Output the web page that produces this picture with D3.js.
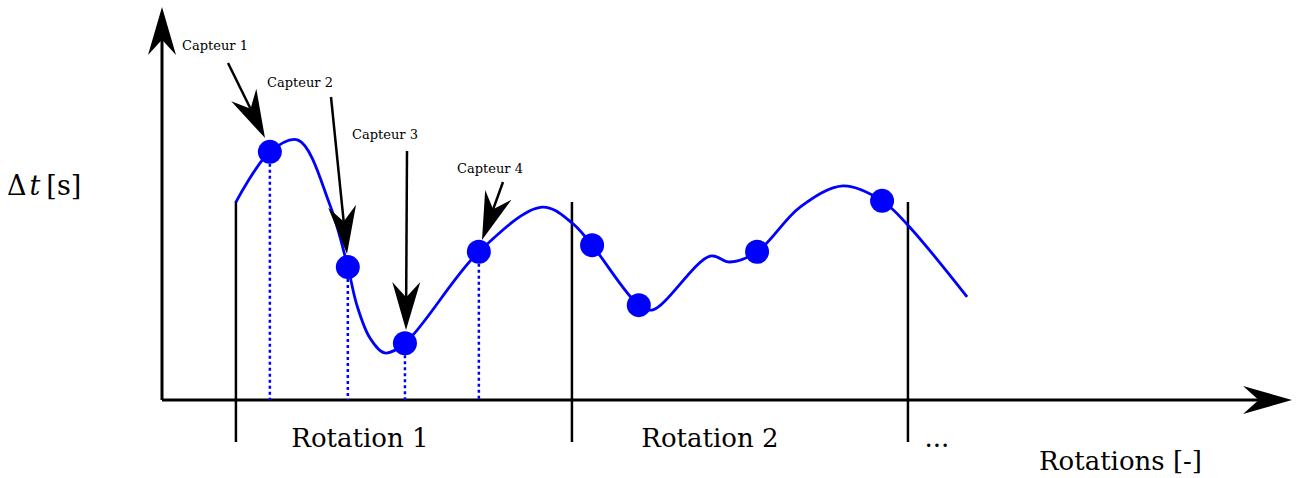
<!DOCTYPE html>
<html>

<head>
    <style>
        body { margin: 0; background: #fff; }
        text { font-family: "DejaVu Serif", serif; fill: #000; }
    </style>
    <script src="https://d3js.org/d3.v7.min.js"></script>
</head>

<body>

    <svg width="1296" height="478"></svg>

    <script>

        // curve of delta t along the rotations (x in rotations, y in arbitrary units)
        const curveR = [0, 0.101, 0.185, 0.280, 0.333, 0.360, 0.399, 0.443, 0.503, 0.723, 0.911, 1.000,
            1.060, 1.199, 1.241, 1.411, 1.470, 1.551, 1.679, 1.807, 1.923, 2.000, 2.176]
        const curveV = [5.05, 6.33, 6.63, 4.97, 3.39, 2.42, 1.58, 1.20, 1.45, 3.78, 4.92, 4.52,
            3.95, 2.42, 2.30, 3.67, 3.52, 3.78, 4.92, 5.46, 5.08, 4.46, 2.63]

        // sensor readings
        const sensorR = [0.101, 0.333, 0.503, 0.723, 1.060, 1.199, 1.551, 1.923]
        const sensorV = [6.33, 3.39, 1.45, 3.78, 3.95, 2.42, 3.78, 5.08]
        const sensorNames = ["Capteur 1", "Capteur 2", "Capteur 3", "Capteur 4"]

        // rotation boundaries and labels
        const rotationTicks = [0, 1, 2]
        const rotationLabels = ["Rotation 1", "Rotation 2", "..."]

        const svg = d3.select("svg")

        const x = d3.scaleLinear().domain([-0.22, 3.14]).range([162, 1291])
        const y = d3.scaleLinear().domain([0, 10]).range([400, 8])

        // draws a "stealth" arrow from (x1,y1) to tip (x2,y2)
        function arrow(x1, y1, x2, y2, len, half, width) {
            const a = Math.atan2(y2 - y1, x2 - x1)
            const ux = Math.cos(a), uy = Math.sin(a)
            const nx = -uy, ny = ux
            const notch = len * 0.68
            svg.append("line")
                .attr("x1", x1).attr("y1", y1)
                .attr("x2", x2 - ux * notch).attr("y2", y2 - uy * notch)
                .attr("stroke", "#000")
                .attr("stroke-width", width)
            const head = [
                [x2, y2],
                [x2 - ux * len + nx * half, y2 - uy * len + ny * half],
                [x2 - ux * notch, y2 - uy * notch],
                [x2 - ux * len - nx * half, y2 - uy * len - ny * half]
            ]
            svg.append("path")
                .attr("d", "M" + head.join("L") + "Z")
                .attr("fill", "#000")
        }

        // axes
        arrow(x(-0.22), y(0), 1292, y(0), 49, 14, 3)
        arrow(x(-0.22), y(0), x(-0.22), 7, 48, 14, 3)

        // rotation separators
        svg.selectAll(".sep")
            .data(rotationTicks)
            .join("line")
            .attr("class", "sep")
            .attr("x1", d => x(d)).attr("x2", d => x(d))
            .attr("y1", (d, i) => i == 0 ? 201 : 202)
            .attr("y2", 442)
            .attr("stroke", "#000")
            .attr("stroke-width", 2.5)

        const labelShift = [124, 138, 29]
        svg.selectAll(".rotLabel")
            .data(rotationLabels)
            .join("text")
            .attr("class", "rotLabel")
            .attr("x", (d, i) => x(rotationTicks[i]) + labelShift[i])
            .attr("y", 447)
            .attr("text-anchor", "middle")
            .style("font-size", "26px")
            .text(d => d)

        svg.append("text")
            .attr("x", 1202)
            .attr("y", 470)
            .attr("text-anchor", "end")
            .style("font-size", "26px")
            .text("Rotations [-]")

        const ylab = svg.append("text")
            .attr("x", 7)
            .attr("y", 195)
            .style("font-size", "27px")
        ylab.append("tspan").text("Δ")
        ylab.append("tspan").attr("dx", 3).style("font-style", "italic").text("t")
        ylab.append("tspan").attr("dx", 6).text("[s]")

        // dotted drop lines for the first rotation
        svg.selectAll(".drop")
            .data(sensorR.slice(0, 4))
            .join("line")
            .attr("class", "drop")
            .attr("x1", d => x(d)).attr("x2", d => x(d))
            .attr("y1", (d, i) => y(sensorV[i]))
            .attr("y2", y(0))
            .attr("stroke", "#0000ff")
            .attr("stroke-width", 2.5)
            .attr("stroke-dasharray", "3,3")

        // curve
        const pts = curveR.map((r, i) => [r, curveV[i]])
        svg.append("path")
            .datum(pts)
            .attr("d", d3.line().x(d => x(d[0])).y(d => y(d[1])).curve(d3.curveCatmullRom.alpha(0.5)))
            .attr("fill", "none")
            .attr("stroke", "#0000ff")
            .attr("stroke-width", 2.8)

        svg.selectAll(".dot")
            .data(sensorR)
            .join("circle")
            .attr("class", "dot")
            .attr("cx", d => x(d))
            .attr("cy", (d, i) => y(sensorV[i]))
            .attr("r", 12)
            .attr("fill", "#0000ff")

        // sensor annotations
        const labelPos = [[215, 50], [300, 87], [385, 139], [490, 173]]
        const arrowTail = [[228, 63], [331, 97], [407, 151], [503, 182]]
        const arrowTip = [[265, 138], [347, 254], [406, 330], [482, 240]]

        sensorNames.forEach((name, i) => {
            svg.append("text")
                .attr("x", labelPos[i][0])
                .attr("y", labelPos[i][1])
                .attr("text-anchor", "middle")
                .style("font-size", "13px")
                .text(name)
            arrow(arrowTail[i][0], arrowTail[i][1], arrowTip[i][0], arrowTip[i][1], 48, 14, 2.5)
        })

    </script>
</body>

</html>
